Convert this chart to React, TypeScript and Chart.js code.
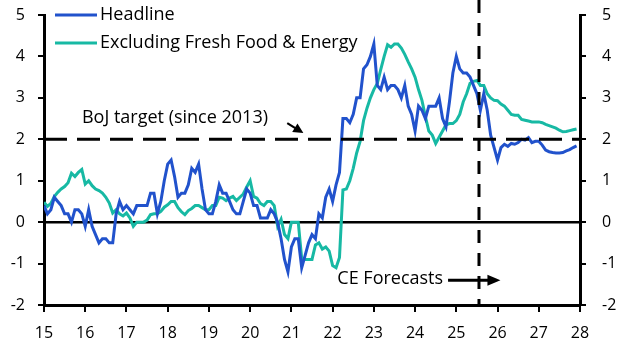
import { useEffect, useRef } from "react";
import { Chart, registerables } from "chart.js";

Chart.register(...registerables);

// ---------------- data ----------------
const START_YEAR = 2015; // monthly data, Jan 2015 .. Dec 2027
const X_MIN = 2015;
const X_MAX = 2028;
const Y_MIN = -2;
const Y_MAX = 5;
const BOJ_TARGET = 2;
const FORECAST_START = 2025.55;

const seriesLabels = ["Headline", "Excluding Fresh Food & Energy"];

// Headline CPI, % y/y
const headline = [
  // 2015
  0.4, 0.2, 0.3, 0.6, 0.5, 0.4, 0.2, 0.2, 0.0, 0.3, 0.3, 0.2,
  // 2016
  -0.1, 0.3, -0.1, -0.3, -0.5, -0.4, -0.4, -0.5, -0.5, 0.2, 0.5, 0.3,
  // 2017
  0.4, 0.3, 0.2, 0.4, 0.4, 0.4, 0.4, 0.7, 0.7, 0.2, 0.5, 1.0,
  // 2018
  1.4, 1.5, 1.1, 0.6, 0.7, 0.7, 0.9, 1.3, 1.2, 1.4, 0.8, 0.3,
  // 2019
  0.2, 0.2, 0.5, 0.9, 0.7, 0.7, 0.5, 0.3, 0.2, 0.2, 0.5, 0.8,
  // 2020
  0.7, 0.4, 0.4, 0.1, 0.1, 0.1, 0.3, 0.2, 0.0, -0.4, -0.9, -1.2,
  // 2021
  -0.6, -0.4, -0.4, -1.1, -0.8, -0.5, -0.3, -0.4, 0.2, 0.1, 0.6, 0.8,
  // 2022
  0.5, 0.9, 1.2, 2.5, 2.5, 2.4, 2.6, 3.0, 3.0, 3.7, 3.8, 4.0,
  // 2023
  4.3, 3.3, 3.2, 3.5, 3.2, 3.3, 3.3, 3.2, 3.0, 3.3, 2.8, 2.6,
  // 2024
  2.2, 2.8, 2.7, 2.5, 2.8, 2.8, 2.8, 3.0, 2.5, 2.3, 2.9, 3.6,
  // 2025
  4.0, 3.7, 3.6, 3.6, 3.5, 3.3, 3.1, 2.7, 3.1, 2.7, 2.1, 1.8,
  // 2026
  1.5, 1.8, 1.88, 1.83, 1.9, 1.88, 1.92, 2.0, 1.98, 2.04, 1.92, 1.95,
  // 2027
  1.95, 1.86, 1.74, 1.7, 1.68, 1.67, 1.67, 1.68, 1.72, 1.75, 1.8, 1.84,
];

// CPI excluding fresh food & energy, % y/y
const coreCore = [
  // 2015
  0.48, 0.38, 0.45, 0.62, 0.72, 0.8, 0.86, 0.95, 1.18, 1.1, 1.2, 1.27,
  // 2016
  0.92, 1.0, 0.88, 0.8, 0.76, 0.7, 0.6, 0.46, 0.22, 0.3, 0.2, 0.15,
  // 2017
  0.22, 0.1, -0.1, 0.0, 0.0, 0.0, 0.05, 0.18, 0.2, 0.2, 0.26, 0.36,
  // 2018
  0.42, 0.5, 0.5, 0.35, 0.25, 0.18, 0.28, 0.33, 0.4, 0.4, 0.35, 0.3,
  // 2019
  0.3, 0.4, 0.4, 0.6, 0.58, 0.52, 0.58, 0.62, 0.52, 0.6, 0.68, 0.85,
  // 2020
  1.0, 0.62, 0.58, 0.45, 0.4, 0.5, 0.5, 0.4, -0.1, 0.07, -0.3, -0.4,
  // 2021
  0.0, 0.0, 0.0, -0.88, -0.9, -0.9, -0.9, -0.55, -0.5, -0.65, -0.6, -0.7,
  // 2022
  -1.05, -1.1, -0.85, 0.78, 0.8, 1.0, 1.3, 1.67, 1.95, 2.45, 2.75, 3.0,
  // 2023
  3.2, 3.35, 3.68, 4.0, 4.28, 4.22, 4.3, 4.3, 4.2, 4.05, 3.87, 3.7,
  // 2024
  3.5, 3.2, 2.94, 2.55, 2.2, 2.1, 1.9, 2.05, 2.2, 2.35, 2.38, 2.38,
  // 2025
  2.45, 2.6, 2.9, 3.1, 3.35, 3.4, 3.42, 3.3, 3.3, 3.1, 3.0, 2.94,
  // 2026
  2.93, 2.85, 2.8, 2.7, 2.6, 2.58, 2.58, 2.48, 2.46, 2.44, 2.42, 2.42,
  // 2027
  2.42, 2.4, 2.36, 2.33, 2.3, 2.27, 2.22, 2.18, 2.19, 2.21, 2.23, 2.25,
];

// annotation anchors in data units
const bojText = "BoJ target (since 2013)";
const bojTextPos = { x: 2015.92, y: 2.51 };
const bojArrow = { x1: 2020.9, y1: 2.39, x2: 2021.29, y2: 2.15 };
const ceText = "CE Forecasts";
const ceTextRight = { x: 2024.68, y: -1.38 };
const ceArrow = { x1: 2024.8, x2: 2026.07, y: -1.40 };

// ---------------- styles ----------------
const FONT = "'Open Sans', 'DejaVu Sans', sans-serif";
const BLUE = "#2152cc";
const TEAL = "#17b9a4";
const BLACK = "#000000";

const toPoints = (arr: number[]) =>
  arr.map((v, i) => ({ x: START_YEAR + i / 12, y: v }));

function drawArrowHead(ctx: CanvasRenderingContext2D, x1: number, y1: number, x2: number, y2: number, len: number, half: number) {
  const a = Math.atan2(y2 - y1, x2 - x1);
  ctx.beginPath();
  ctx.moveTo(x2, y2);
  ctx.lineTo(x2 - len * Math.cos(a) + half * Math.sin(a), y2 - len * Math.sin(a) - half * Math.cos(a));
  ctx.lineTo(x2 - len * Math.cos(a) - half * Math.sin(a), y2 - len * Math.sin(a) + half * Math.cos(a));
  ctx.closePath();
  ctx.fill();
}

const annotationPlugin = {
  id: "annotations",
  afterDatasetsDraw(chart: any) {
    const { ctx, chartArea, scales } = chart;
    const xs = scales.x;
    const ys = scales.y;
    ctx.save();
    // forecast divider
    const fx = xs.getPixelForValue(FORECAST_START);
    ctx.strokeStyle = BLACK;
    ctx.lineWidth = 3;
    ctx.setLineDash([13, 10]);
    ctx.beginPath();
    ctx.moveTo(fx, 0);
    ctx.lineTo(fx, chartArea.bottom);
    ctx.stroke();
    ctx.setLineDash([]);

    ctx.fillStyle = BLACK;
    ctx.font = `18px ${FONT}`;
    ctx.textBaseline = "middle";
    // BoJ text + arrow
    ctx.textAlign = "left";
    ctx.fillText(bojText, xs.getPixelForValue(bojTextPos.x), ys.getPixelForValue(bojTextPos.y));
    {
      const x1 = xs.getPixelForValue(bojArrow.x1), y1 = ys.getPixelForValue(bojArrow.y1);
      const x2 = xs.getPixelForValue(bojArrow.x2), y2 = ys.getPixelForValue(bojArrow.y2);
      ctx.lineWidth = 2.2;
      ctx.beginPath();
      ctx.moveTo(x1, y1);
      ctx.lineTo(x1 + (x2 - x1) * 0.55, y1 + (y2 - y1) * 0.55);
      ctx.stroke();
      drawArrowHead(ctx, x1, y1, x2, y2, 10, 5);
    }
    // CE forecasts text + arrow
    ctx.textAlign = "right";
    ctx.fillText(ceText, xs.getPixelForValue(ceTextRight.x), ys.getPixelForValue(ceTextRight.y));
    {
      const x1 = xs.getPixelForValue(ceArrow.x1), x2 = xs.getPixelForValue(ceArrow.x2);
      const y = ys.getPixelForValue(ceArrow.y);
      ctx.lineWidth = 3;
      ctx.beginPath();
      ctx.moveTo(x1, y);
      ctx.lineTo(x2 - 10, y);
      ctx.stroke();
      drawArrowHead(ctx, x1, y, x2, y, 13, 5.5);
    }

    // legend
    const lx = chartArea.left + 11;
    const rows = [
      { label: seriesLabels[0], color: BLUE },
      { label: seriesLabels[1], color: TEAL },
    ];
    ctx.textAlign = "left";
    rows.forEach((r, i) => {
      const y = chartArea.top + i * 28;
      ctx.strokeStyle = r.color;
      ctx.lineWidth = 3;
      ctx.beginPath();
      ctx.moveTo(lx, y);
      ctx.lineTo(lx + 42, y);
      ctx.stroke();
      ctx.fillStyle = BLACK;
      ctx.fillText(r.label, lx + 45, y);
    });
    ctx.restore();
  },
};

export default function App() {
  const ref = useRef<HTMLCanvasElement>(null);
  useEffect(() => {
    document.body.style.margin = "0";
    const tickFont = { family: FONT, size: 16 };
    const fitY = (w: number) => (s: any) => {
      s.width = w;
      s.paddingTop = 0;
      s.paddingBottom = 0;
    };
    const chart = new Chart(ref.current as HTMLCanvasElement, {
      type: "line",
      data: {
        datasets: [
          {
            label: "BoJ target",
            data: [{ x: X_MIN, y: BOJ_TARGET }, { x: X_MAX, y: BOJ_TARGET }],
            borderColor: BLACK,
            borderWidth: 3,
            borderDash: [23, 10],
            pointRadius: 0,
            order: 0,
          },
          {
            label: seriesLabels[0],
            data: toPoints(headline),
            borderColor: BLUE,
            borderWidth: 3,
            pointRadius: 0,
            tension: 0,
            order: 1,
          },
          {
            label: seriesLabels[1],
            data: toPoints(coreCore),
            borderColor: TEAL,
            borderWidth: 3,
            pointRadius: 0,
            tension: 0,
            order: 2,
          },
          {
            label: "zero",
            data: [{ x: X_MIN, y: 0 }, { x: X_MAX, y: 0 }],
            borderColor: BLACK,
            borderWidth: 2.5,
            pointRadius: 0,
            order: 3,
          },
        ],
      },
      options: {
        animation: false,
        responsive: false,
        maintainAspectRatio: false,
        layout: { padding: { top: 15, left: 0, right: 0, bottom: 0 } },
        plugins: { legend: { display: false }, tooltip: { enabled: false } },
        scales: {
          x: {
            type: "linear",
            min: X_MIN,
            max: X_MAX,
            ticks: {
              stepSize: 1,
              autoSkip: false,
              maxRotation: 0,
              color: BLACK,
              font: tickFont,
              padding: 12,
              callback: (v: any) => String(Number(v) - 2000),
            },
            grid: { display: true, drawOnChartArea: false, drawTicks: true, tickLength: 7, color: BLACK, lineWidth: 2 },
            border: { display: true, color: BLACK, width: 3 },
            afterFit: (s: any) => { s.height = 48; s.paddingLeft = 0; s.paddingRight = 0; },
          },
          y: {
            type: "linear",
            position: "left",
            min: Y_MIN,
            max: Y_MAX,
            ticks: { stepSize: 1, color: BLACK, font: tickFont, padding: 13, callback: (v: any) => String(v) },
            grid: { display: true, drawOnChartArea: false, drawTicks: true, tickLength: 6, color: BLACK, lineWidth: 2 },
            border: { display: true, color: BLACK, width: 3 },
            afterFit: fitY(44),
          },
          y2: {
            type: "linear",
            position: "right",
            min: Y_MIN,
            max: Y_MAX,
            ticks: { stepSize: 1, color: BLACK, font: tickFont, padding: 16, callback: (v: any) => String(v) },
            grid: { display: true, drawOnChartArea: false, drawTicks: true, tickLength: 6, color: BLACK, lineWidth: 2 },
            border: { display: true, color: BLACK, width: 3 },
            afterFit: fitY(48),
          },
        },
      },
      plugins: [annotationPlugin],
    });
    return () => chart.destroy();
  }, []);
  return (
    <div style={{ width: 628, height: 353, position: "relative", background: "#fff" }}>
      <canvas ref={ref} width={628} height={353} style={{ display: "block" }} />
    </div>
  );
}
